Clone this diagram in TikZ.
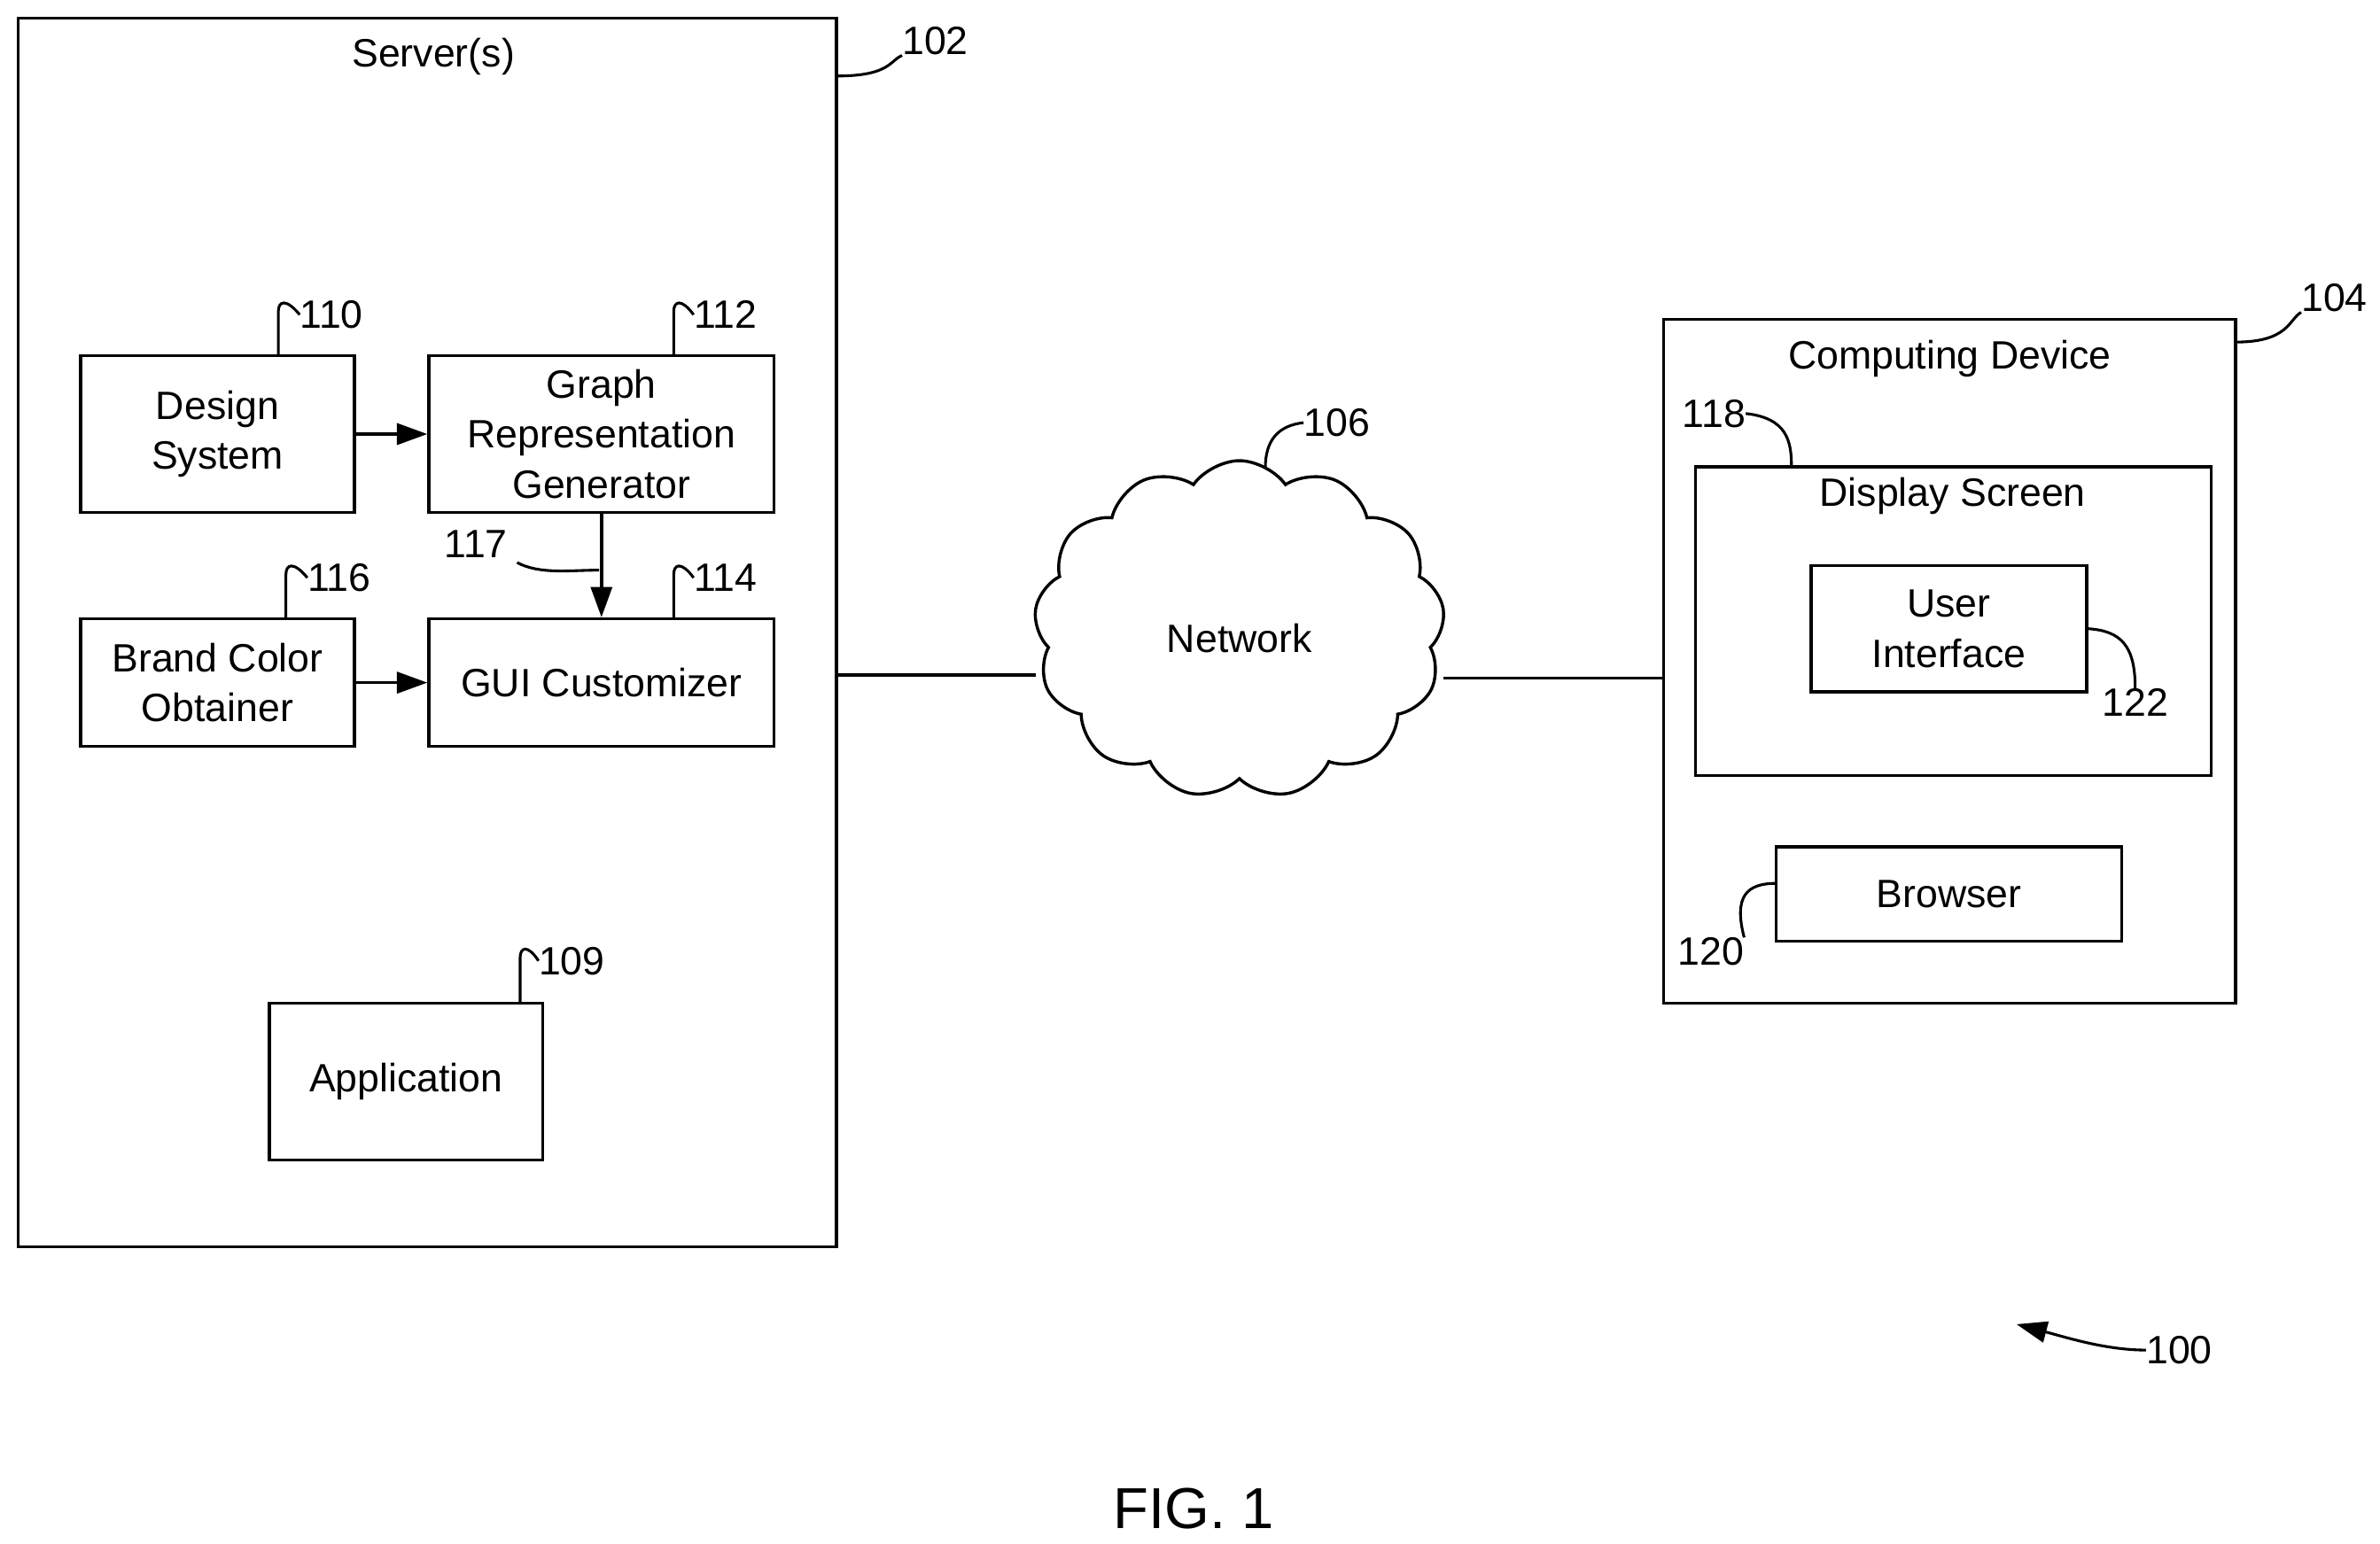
\documentclass[tikz,border=0pt]{standalone}
\usepackage{fontspec}
\setmainfont{Liberation Sans}
\usetikzlibrary{shapes.symbols,arrows.meta}
\begin{document}
\begin{tikzpicture}[x=1pt,y=-1pt,
  box/.style={draw,line width=2pt,inner sep=0pt},
  txt/.style={font=\fontsize{26}{33}\selectfont,align=center,inner sep=0pt},
  lead/.style={line width=1.8pt},
  arr/.style={line width=2pt,-{Triangle[length=20pt,width=14pt]}}]
\useasboundingbox (0,0) rectangle (1565,1015);
% server
\draw[box] (12,12) rectangle (550,820);
\node[txt] (srv) at (285,37) {Server(s)};
\node[txt] (l102) at (615,27) {102};
\draw[lead] (550,50) .. controls (585,50) and (585,40) .. (l102.south west);
% inner boxes
\node[box,txt,minimum width=180,minimum height=103] (ds) at (143,285.5) {Design\\System};
\node[box,txt,minimum width=227,minimum height=103] (gr) at (395.5,285.5) {Graph\\Representation\\Generator};
\node[box,txt,minimum width=180,minimum height=84] (bc) at (143,449) {Brand Color\\Obtainer};
\node[box,txt,minimum width=227,minimum height=84] (gui) at (395.5,449) {GUI Customizer};
\node[box,txt,minimum width=180,minimum height=103] (app) at (267,711.5) {Application};
\draw[arr] (ds.east) -- (gr.west);
\draw[arr] (bc.east) -- (gui.west);
\draw[arr] (gr.south) -- (gui.north);
\node[txt] (l117) at (313,358) {117};
\coordinate (c117) at (394,375);
\draw[lead] (340,370) .. controls (355,378) and (375,375) .. (c117);
\node[txt] (l110) at (218,207) {110};
\node[txt] (l112) at (477,207) {112};
\node[txt] (l116) at (223,380) {116};
\node[txt] (l114) at (477,380) {114};
\node[txt] (l109) at (376,632) {109};
\draw[lead] (183,234) -- (183,205) .. controls (183,198) and (188,196) .. (l110.west);
\draw[lead] (443,234) -- (443,205) .. controls (443,198) and (448,196) .. (l112.west);
\draw[lead] (188,407) -- (188,378) .. controls (188,371) and (193,369) .. (l116.west);
\draw[lead] (443,407) -- (443,378) .. controls (443,371) and (448,369) .. (l114.west);
\draw[lead] (342,660) -- (342,630) .. controls (342,623) and (347,621) .. (l109.west);
% network
\node[cloud,draw,line width=2pt,cloud puffs=13,cloud puff arc=110,aspect=1.2,minimum width=270,minimum height=222,inner sep=0pt] (net) at (815,414) {};
\node[txt] at (815,420) {Network};
\draw[line width=2pt] (550,444) -- (net.west|-0,444);
\draw[line width=2pt] (net.east|-0,446) -- (1094,446);
\node[txt] (l106) at (879,278) {106};
\draw[lead] (832,308) .. controls (832,290) and (840,280) .. (l106.west);
% computing device
\draw[box] (1094,210) rectangle (1470,660);
\node[txt] (cd) at (1282,236) {Computing Device};
\node[txt] (l104) at (1535,196) {104};
\draw[lead] (1470,225) .. controls (1505,225) and (1505,210) .. (l104.south west);
\draw[box] (1115,307) rectangle (1454,510);
\node[txt] (dsp) at (1284,326) {Display Screen};
\node[txt] (l118) at (1127,272) {118};
\draw[lead] (l118.east) .. controls (1175,275) and (1178,290) .. (1178,307);
\node[box,txt,minimum width=181,minimum height=83] (ui) at (1281.5,413.5) {User\\Interface};
\node[txt] (l122) at (1404,462) {122};
\draw[lead] (ui.east) .. controls (1395,415) and (1404,425) .. (l122.north);
\node[box,txt,minimum width=227,minimum height=62] (br) at (1281.5,588) {Browser};
\node[txt] (l120) at (1125,626) {120};
\draw[lead] (1168,581) .. controls (1148,581) and (1140,590) .. (l120.north east);
% 100
\node[txt] (l100) at (1433,888) {100};
\coordinate (t100) at (1326,871);
\draw[line width=1.8pt,-{Triangle[length=20pt,width=14pt]}] (l100.west) .. controls (1385,888) and (1360,880) .. (t100);
\node[font=\fontsize{38}{42}\selectfont,inner sep=0pt] (fig) at (785,992) {FIG. 1};
\end{tikzpicture}
\end{document}
